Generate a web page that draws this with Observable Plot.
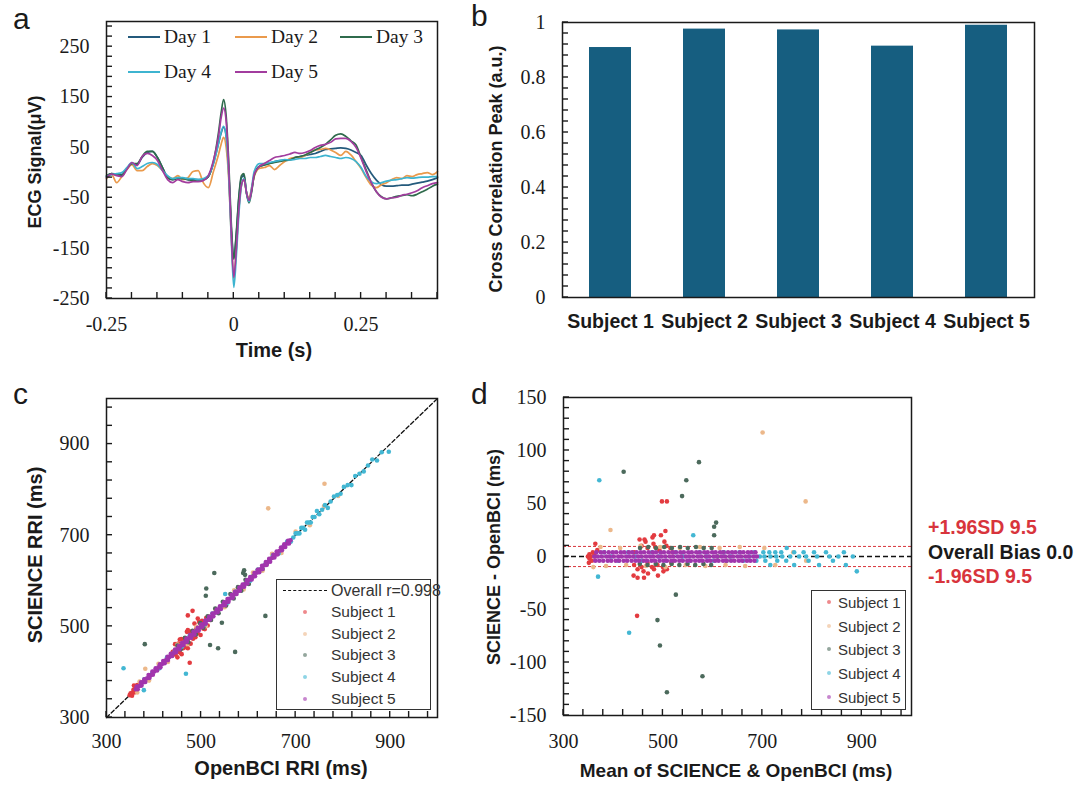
<!DOCTYPE html>
<html><head><meta charset="utf-8">
<script src="https://cdn.jsdelivr.net/npm/d3@7"></script>
<script src="https://cdn.jsdelivr.net/npm/@observablehq/plot@0.6"></script>
<style>
body{margin:0;background:#fff;}
#fig{position:relative;width:1080px;height:786px;overflow:hidden;background:#fff;font-family:"Liberation Sans",Arial,sans-serif;color:#222;}
#fig > svg{position:absolute;}
.lgbox{position:absolute;border:1.5px solid #333;background:#fff;box-sizing:border-box;}
</style>
</head><body><div id="fig"></div>
<script>
// ---------- Panel a: ECG templates ----------
const dayNames = ["Day 1","Day 2","Day 3","Day 4","Day 5"];
const dayColors = ["#245a7c","#ea9a4c","#2f6b4c","#3db4d0","#a23c9e"];
const timeS = [-0.25,-0.24,-0.23,-0.22,-0.21,-0.20,-0.19,-0.18,-0.17,-0.16,-0.15,-0.14,-0.13,-0.12,-0.11,-0.10,-0.09,-0.08,-0.07,-0.06,-0.05,-0.04,-0.03,
  -0.025,-0.02,-0.015,-0.01,-0.005,0,0.005,0.01,0.015,0.02,0.025,0.03,0.035,0.04,
  0.05,0.06,0.07,0.08,0.09,0.10,0.11,0.12,0.13,0.14,0.15,0.16,0.17,0.18,0.19,0.20,0.21,0.22,0.23,0.24,0.25,0.26,0.27,0.28,0.29,0.30,0.31,0.32,0.33,0.34,0.35,0.36,0.37,0.38,0.39,0.40];
const day1 = [-8,-2,-4,-4,8,18,16,30,40,42, 30,10,-10,-14,-10,-12,-14,-14,-14,-14, -8,18,58,78,90,72,0,-110,-170,-122, -50,-10,-6,-40,-55,-35,-6,12,15,18, 22,24,24,26,30,32,34,36,38,42, 46,47,48,49,48,45,40,34,15,-2, -15,-24,-27,-27,-26,-25,-25,-23,-21,-19, -17,-14,-10];
const day2 = [-12,-4,-20,-8,6,16,4,4,12,18, 14,4,-8,-12,-6,-14,-10,2,4,-20, -30,2,36,56,70,50,-12,-125,-212,-150, -72,-26,-14,-40,-50,-30,-8,8,10,14, 6,14,22,28,30,30,34,40,45,46, 48,45,40,34,42,35,22,8,-10,-25, -30,-24,-20,-14,-10,-12,-6,-8,-4,-2, 0,-4,2];
const day3 = [-6,-2,-3,-6,8,18,18,32,42,42, 30,10,-10,-14,-12,-12,-14,-16,-15,-14, -8,22,80,118,145,112,22,-100,-172,-118, -46,-6,-2,-42,-60,-38,-6,12,15,18, 20,22,24,25,30,32,35,40,45,50, 56,65,74,77,72,63,55,30,5,-20, -38,-48,-52,-50,-47,-46,-44,-46,-43,-38, -33,-27,-23];
const day4 = [-8,-4,-2,0,10,20,8,12,18,20, 16,4,-6,-12,-10,-10,-12,-12,-14,-12, -6,18,58,80,92,72,-4,-130,-228,-165, -82,-26,-12,-40,-58,-30,2,18,18,20, 22,24,26,25,26,28,28,30,30,32, 34,32,30,28,30,28,22,10,-8,-18, -22,-20,-17,-15,-14,-12,-10,-11,-10,-9, -9,-8,-8];
const day5 = [-10,-3,-6,-8,6,20,14,32,38,34, 24,4,-14,-20,-14,-18,-20,-18,-18,-16, -6,24,72,108,128,102,10,-120,-208,-150, -70,-24,-14,-40,-55,-35,-4,12,18,24, 30,32,34,37,40,38,40,44,50,54, 56,60,67,68,68,62,50,28,2,-20, -38,-49,-52,-50,-49,-45,-43,-40,-36,-30, -26,-22,-20];
const aXLabels = [-0.25, 0, 0.25];
const aXMinor = [-0.25,-0.2,-0.15,-0.1,-0.05,0,0.05,0.1,0.15,0.2,0.25,0.3,0.35,0.4];
const aYLabels = [250,150,50,-50,-150,-250];
const aYMinor = [-250,-230,-210,-190,-170,-150,-130,-110,-90,-70,-50,-30,-10,10,30,50,70,90,110,130,150,170,190,210,230,250,270,290];

// ---------- Panel b: cross-correlation peaks ----------
const subjects = ["Subject 1","Subject 2","Subject 3","Subject 4","Subject 5"];
const peakValues = [0.909, 0.976, 0.973, 0.914, 0.99];
const bYLabels = [0,0.2,0.4,0.6,0.8,1];
const bYMinor = [0,0.04,0.08,0.12,0.16,0.2,0.24,0.28,0.32,0.36,0.4,0.44,0.48,0.52,0.56,0.6,0.64,0.68,0.72,0.76,0.8,0.84,0.88,0.92,0.96,1];

// ---------- Panels c/d: RRI pairs (OpenBCI RRI, SCIENCE - OpenBCI) ----------
const subjectColors = ["#e33b40","#ecb88a","#4c6a5c","#43b7d3","#a135ad"];
const s1Open = [349,351,353,355,357,359,361,363,365,354,358, 440,446,452,455,458,462,465,468,470,472,475,478,480,483,486,488,490,493,496,499,502,505,508,511,514,517,520,445,450, 472,482,476,459,472,455,472,493];
const s1Diff = [0,2,-2,0,4,-4,2,0,6,-6,12, 4,-8,10,-12,14,-10,8,-14,18,-6,12,-16,9,-10,20,-12,6,-8,14,-18,10,-10,-14,8,-12,4,-6,16,-18, 52,52,-56,-20,-20,16,20,24];
const s2Open = [365,370,390,410,430,450,470,490,510,530,550,570,590,610,630,650,670,700,730,760,790, 642,761,382];
const s2Diff = [-10,9,-9,8,-8,10,-9,9,-10,8,-8,9,-9,8,-8,9,-9,8,-8,4,-4, 117,52,25];
const s3Open = [450,457,466,473,482,489,498,505,514,521,530,537,546,553,562,569,578,585,594,601,610,620,630, 528,381,511,510,591,589,593,544,519,536,636,572];
const s3Diff = [8,-7,9,-8,8,-7,9,-8,8,-7,9,-8,8,-7,9,-8,8,-7,8,-8,0,4,-4, 89,80,72,57,32,28,20,-36,-60,-84,-113,-128];
const s4Open = [380,396,412,428,444,460,476,492,508,524,540,556,572,588,604,620,636,652,664,674,682,690,695,700,704,708,712,716,720,724,728,732,736,740,745,750,756,762,768,774,781,788,795,802,810,818,826,835,844,853,862,872,882, 336,379,468,551,897];
const s4Diff = [4,0,-4,4,0,-4,4,0,-4,4,0,-4,4,0,-4,4,0,4,-4,0,4,-4,0,4,0,-4,4,0,-8,4,0,-4,4,0,8,-4,0,4,-8,0,4,0,-4,4,0,-8,4,0,-4,0,4,-8,0, 72,-19,-72,20,-14];
const s5OpenZero = [362,369,377,386,393,401,410,417,426,433,441,450,457,466,474,481,490,497,505,514,521,530,537,546,553,561,570,577,586,593,602,609,618,625,634,641,650,657,666,673,682,689];
const s5OpenPlus = [364,373,380,389,397,404,413,420,429,436,445,453,460,469,477,484,493,500,509,517,524,533,540,549,556,565,572,581,588,597,604,613,620,629,637,644,653,660,669,676,684];
const s5OpenMinus = [366,374,382,391,398,407,414,423,430,439,447,454,463,470,479,486,495,503,510,519,526,535,542,551,558,567,575,582,591,598,607,614,623,630,639,646,655,662,671,678,686];
const s5RowDiffs = [0, 4, -4];
const rriTicks = [300,500,700,900];
const rriMinor = [300,340,380,420,460,500,540,580,620,660,700,740,780,820,860,900,940,980];
const rriDomain = [300, 1000];
const dYLabels = [150,100,50,0,-50,-100,-150];
const dYMinor = [-150,-140,-130,-120,-110,-100,-90,-80,-70,-60,-50,-40,-30,-20,-10,0,10,20,30,40,50,60,70,80,90,100,110,120,130,140,150];
const overallR = "0.998";
const bias = 0.0;
const loa = 9.5;

// ---------- build tables ----------
const dayVals = [day1,day2,day3,day4,day5];
const ecgRows = dayNames.flatMap((name,i) => timeS.map((t,j) => ({day:name, t, v:dayVals[i][j]})));
const barRows = subjects.map((s,i) => ({subject:s, peak:peakValues[i]}));
const pairs = [[s1Open,s1Diff],[s2Open,s2Diff],[s3Open,s3Diff],[s4Open,s4Diff]];
const rri = [];
pairs.forEach(([o,d],i) => o.forEach((v,j) => rri.push({subject:subjects[i], open:v, diff:d[j]})));
[s5OpenZero,s5OpenPlus,s5OpenMinus].forEach((row,k) => row.forEach(v => rri.push({subject:subjects[4], open:v, diff:s5RowDiffs[k]})));
rri.forEach(p => { p.sci = p.open + p.diff; p.mean = p.open + p.diff/2; });

const fig = document.getElementById("fig");
const ink = "#1a1a1a";
const fmt = d => String(d);
const TICK = 6;
const baseStyle = {fontFamily:'"Liberation Serif","Times New Roman",serif', fontSize:"20px", color:ink, background:"transparent", overflow:"visible"};
function put(svg, left, top){ svg.style.left = left+"px"; svg.style.top = top+"px"; fig.appendChild(svg); }
function txt(text, x, y, o={}) {
  const d = document.createElement("div");
  d.textContent = text;
  const ax = o.ax ?? -50;
  d.style.cssText = `position:absolute;left:${x}px;top:${y}px;white-space:nowrap;line-height:1;`+
    `font-family:${o.family||'"Liberation Sans",Arial,sans-serif'};font-size:${o.size||20}px;font-weight:${o.weight||"bold"};color:${o.color||ink};`+
    `transform:translate(${ax}%,-50%)${o.rotate?" rotate(-90deg)":""};`;
  fig.appendChild(d);
  return d;
}
function labelAxes(xl, yl, xpad) {
  return [
    Plot.axisX(xl, {tickSize:0, tickPadding:xpad, tickFormat:fmt, label:null}),
    Plot.axisY(yl, {tickSize:0, tickPadding:17, tickFormat:fmt, label:null})
  ];
}
// inward minor ticks, positioned with the plot's own x / y scales
function addTicks(svg, xs, ys) {
  const X = svg.scale("x"), Y = svg.scale("y");
  const yb = Math.max(...Y.range), xl = Math.min(...X.range);
  const g = d3.select(svg).append("g").attr("stroke", ink).attr("stroke-width", 1.4).attr("fill", "none");
  (xs || []).forEach(v => { const px = X.apply(v); g.append("line").attr("x1", px).attr("x2", px).attr("y1", yb).attr("y2", yb - TICK); });
  (ys || []).forEach(v => { const py = Y.apply(v); g.append("line").attr("x1", xl).attr("x2", xl + TICK).attr("y1", py).attr("y2", py); });
}

// Panel a
const pa = Plot.plot({
  width:460, height:345, marginTop:21, marginBottom:47, marginLeft:106, marginRight:23,
  style:baseStyle,
  x:{domain:[-0.25,0.40]}, y:{domain:[-250,300]},
  color:{domain:dayNames, range:dayColors},
  marks:[
    Plot.line(ecgRows, {x:"t", y:"v", z:"day", stroke:"day", strokeWidth:1.7, curve:"monotone-x"}),
    ...labelAxes(aXLabels, aYLabels, 18),
    Plot.frame({stroke:ink, strokeWidth:1.5})
  ]
});
addTicks(pa, aXMinor, aYMinor);
put(pa, 0, 0);

// Panel b
const pb = Plot.plot({
  width:600, height:345, marginTop:22, marginBottom:48, marginLeft:82, marginRight:46,
  style:baseStyle,
  x:{domain:subjects, paddingInner:0.55, paddingOuter:0.275},
  y:{domain:[0,1]},
  marks:[
    Plot.barY(barRows, {x:"subject", y:"peak", fill:"#165e80"}),
    Plot.axisX({tickSize:0, tickPadding:17, label:null, fontFamily:'"Liberation Sans",Arial,sans-serif', fontWeight:"bold", fontSize:19.5}),
    Plot.axisY(bYLabels, {tickSize:0, tickPadding:17, tickFormat:fmt, label:null}),
    Plot.frame({stroke:ink, strokeWidth:1.5})
  ]
});
addTicks(pb, null, bYMinor);
put(pb, 480, 0);

// Panel c
const pc = Plot.plot({
  width:460, height:406, marginTop:18, marginBottom:69, marginLeft:106, marginRight:23,
  style:baseStyle,
  x:{domain:rriDomain}, y:{domain:rriDomain},
  color:{domain:subjects, range:subjectColors},
  marks:[
    Plot.line(rriDomain, {x:d=>d, y:d=>d, stroke:"#111", strokeWidth:1.3, strokeDasharray:"4,2.5"}),
    Plot.dot(rri, {x:"open", y:"sci", fill:"subject", r:2.3}),
    ...labelAxes(rriTicks, rriTicks, 16),
    Plot.frame({stroke:ink, strokeWidth:1.5})
  ]
});
addTicks(pc, rriMinor, rriMinor);
put(pc, 0, 380);

// Panel d
const pd = Plot.plot({
  width:600, height:406, marginTop:17, marginBottom:71, marginLeft:83, marginRight:169,
  style:baseStyle,
  x:{domain:rriDomain}, y:{domain:[-150,150]},
  color:{domain:subjects, range:subjectColors},
  marks:[
    Plot.ruleY([bias+loa, bias-loa], {stroke:"#d8343c", strokeWidth:1, strokeDasharray:"3,2"}),
    Plot.ruleY([bias], {stroke:"#111", strokeWidth:1.5, strokeDasharray:"5,3"}),
    Plot.dot(rri, {x:"mean", y:"diff", fill:"subject", r:2.3}),
    ...labelAxes(rriTicks, dYLabels, 18),
    Plot.frame({stroke:ink, strokeWidth:1.5})
  ]
});
addTicks(pd, rriMinor, dYMinor);
put(pd, 480, 380);

// ---------- titles ----------
txt("a", 13, 19, {size:30, weight:"normal", ax:0});
txt("b", 471, 16, {size:30, weight:"normal", ax:0});
txt("c", 13, 394, {size:30, weight:"normal", ax:0});
txt("d", 471, 394, {size:30, weight:"normal", ax:0});
txt("ECG Signal(μV)", 35, 162, {size:18, rotate:true});
txt("Time (s)", 274, 350);
txt("Cross Correlation Peak (a.u.)", 496, 169, {size:18, rotate:true});
txt("SCIENCE RRI (ms)", 35, 555, {rotate:true});
txt("OpenBCI RRI (ms)", 281, 768);
txt("SCIENCE - OpenBCI (ms)", 494, 557, {size:18, rotate:true});
txt("Mean of SCIENCE & OpenBCI (ms)", 736, 770, {size:19});
txt(`+1.96SD ${loa.toFixed(1)}`, 928, 528, {size:19.5, color:"#d8343c", ax:0});
txt(`Overall Bias ${bias.toFixed(1)}`, 928, 553, {size:19.5, ax:0});
txt(`-1.96SD ${loa.toFixed(1)}`, 928, 577, {size:19.5, color:"#d8343c", ax:0});

// ---------- legends ----------
function swatchLine(x, y, w, color, dash) {
  const s = document.createElement("div");
  s.style.cssText = `position:absolute;left:${x}px;top:${y-1}px;width:${w}px;height:0;border-top:${dash?"1.6px dashed":"2px solid"} ${color};`;
  fig.appendChild(s);
}
function swatchDot(x, y, color) {
  const s = document.createElement("div");
  s.style.cssText = `position:absolute;left:${x-2}px;top:${y-2}px;width:4px;height:4px;border-radius:50%;background:${color};opacity:0.6;`;
  fig.appendChild(s);
}
const serif = '"Liberation Serif","Times New Roman",serif';
const legA = [[128,37],[235,37],[340,37],[128,72],[235,72]];
dayNames.forEach((n,i) => {
  const [x,y] = legA[i];
  swatchLine(x, y, 32, dayColors[i], false);
  txt(n, x+36, y, {family:serif, size:19.5, weight:"normal", ax:0});
});
// legend c
const lc = document.createElement("div"); lc.className="lgbox";
lc.style.cssText += "left:276px;top:579px;width:155px;height:131px;"; fig.appendChild(lc);
swatchLine(283, 591, 44, "#111", true);
txt(`Overall r=${overallR}`, 331, 591, {size:16, weight:"normal", color:"#333", ax:0});
subjects.forEach((s,i) => {
  const y = 612 + i*21.7;
  swatchDot(305, y, subjectColors[i]);
  txt(s, 331, y, {size:15.5, weight:"normal", color:"#333", ax:0});
});
// legend d
const ld = document.createElement("div"); ld.className="lgbox";
ld.style.cssText += "left:811px;top:590px;width:95px;height:120px;"; fig.appendChild(ld);
subjects.forEach((s,i) => {
  const y = 602 + i*23.7;
  swatchDot(829, y, subjectColors[i]);
  txt(s, 838, y, {size:15, weight:"normal", color:"#333", ax:0});
});
</script>
</body></html>
